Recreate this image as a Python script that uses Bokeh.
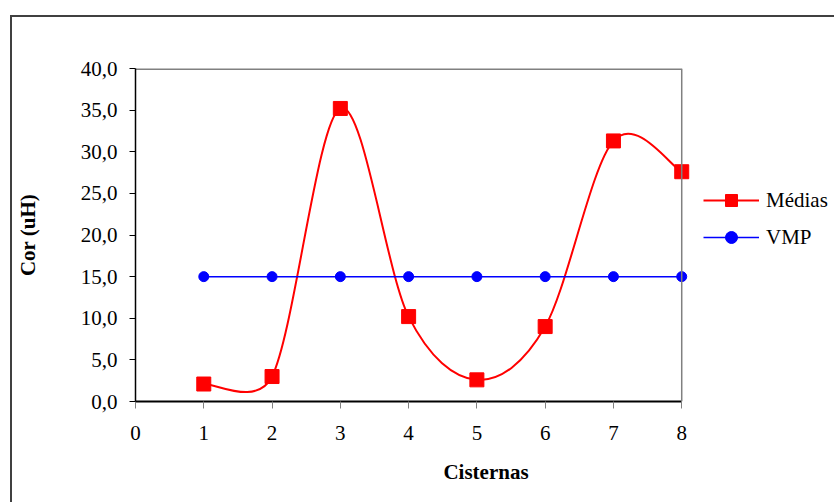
import math
from bokeh.plotting import figure
from bokeh.models import (FixedTicker, CustomJSTickFormatter, Legend, LegendItem,
                          ColumnDataSource, Range1d, Span)
from bokeh.embed import file_html
from bokeh.resources import INLINE

# ---- data ----
cisternas = [1, 2, 3, 4, 5, 6, 7, 8]
medias = [2.1, 3.0, 35.2, 10.2, 2.6, 9.0, 31.3, 27.6]
vmp = [15.0, 15.0, 15.0, 15.0, 15.0, 15.0, 15.0, 15.0]
x_ticks = [0, 1, 2, 3, 4, 5, 6, 7, 8]
y_ticks = [0, 5, 10, 15, 20, 25, 30, 35, 40]
series_names = ["Médias", "VMP"]
x_title = "Cisternas"
y_title = "Cor (uH)"

# ---- layout ----
W, H = 824, 487
ML, MT, MB = 122, 51, 103
PLOT_W = 547                       # width of the plot area (x = 0..8)
FW, FH = W - ML, H - MT - MB       # frame also hosts the legend on the right
X0, X1, Y0, Y1 = 0, 8, 0, 40
SX, SY = PLOT_W / (X1 - X0), FH / (Y1 - Y0)
XMAX = X0 + FW / SX
FONT = "Liberation Serif"


def smooth_segments(xs, ys, f=1 / 6):
    """Excel-like smoothed line: cubic Bezier control points computed in screen space."""
    px = [x * SX for x in xs]
    py = [y * SY for y in ys]
    n = len(px)
    out = {k: [] for k in ("x0", "y0", "x1", "y1", "cx0", "cy0", "cx1", "cy1")}
    for i in range(n - 1):
        a, b = max(i - 1, 0), min(i + 2, n - 1)
        seg = math.hypot(px[i + 1] - px[i], py[i + 1] - py[i])
        dx, dy = px[i + 1] - px[a], py[i + 1] - py[a]
        d = math.hypot(dx, dy) or 1
        L = min(f * d, seg / 2)
        h0x, h0y = dx / d * L, dy / d * L
        dx, dy = px[b] - px[i], py[b] - py[i]
        d = math.hypot(dx, dy) or 1
        L = min(f * d, seg / 2)
        h1x, h1y = dx / d * L, dy / d * L
        out["x0"].append(xs[i]); out["y0"].append(ys[i])
        out["x1"].append(xs[i + 1]); out["y1"].append(ys[i + 1])
        out["cx0"].append((px[i] + h0x) / SX); out["cy0"].append((py[i] + h0y) / SY)
        out["cx1"].append((px[i + 1] - h1x) / SX); out["cy1"].append((py[i + 1] - h1y) / SY)
    return out


p = figure(width=W, height=H, output_backend="svg", toolbar_location=None,
           x_range=Range1d(X0, XMAX), y_range=Range1d(Y0, Y1),
           min_border_left=ML, min_border_right=0, min_border_top=MT, min_border_bottom=MB)
p.margin = (15, 0, 0, 10)
p.styles = {"border-left": "2px solid #404040", "border-top": "2px solid #404040"}

p.xgrid.visible = False
p.ygrid.visible = False
p.background_fill_color = "white"
p.border_fill_color = "white"
p.outline_line_color = None

# plot-area border (top and right edges)
p.segment(x0=[X0], y0=[Y1], x1=[X1], y1=[Y1], line_color="#808080", line_width=3)
p.add_layout(Span(location=X1, dimension="height", line_color="#808080", line_width=1.5))

src_m = ColumnDataSource(smooth_segments(cisternas, medias))
r_ml = p.bezier(x0="x0", y0="y0", x1="x1", y1="y1", cx0="cx0", cy0="cy0",
                cx1="cx1", cy1="cy1", source=src_m, line_color="#FF0000", line_width=2)
r_ms = p.scatter(cisternas, medias, marker="square", size=14, fill_color="#FF0000",
                 line_color="#FF0000")
r_vl = p.line(cisternas, vmp, line_color="#0000FF", line_width=1.5)
r_vs = p.scatter(cisternas, vmp, marker="circle", size=10, fill_color="#0000FF",
                 line_color="#0000FF")

# axes
xa = p.xaxis[0]
xa.bounds = (X0, X1)
xa.ticker = FixedTicker(ticks=x_ticks)
xa.axis_line_color = "black"
xa.axis_line_width = 2
xa.major_tick_in = 0
xa.major_tick_out = 7
xa.major_tick_line_color = "#808080"
xa.minor_tick_line_color = None
xa.major_label_text_font = FONT
xa.major_label_text_font_size = "21px"
xa.major_label_text_color = "black"
xa.major_label_standoff = 17
xa.axis_label = x_title
xa.axis_label_text_font = FONT
xa.axis_label_text_font_style = "bold"
xa.axis_label_text_font_size = "21px"
xa.axis_label_text_color = "black"
xa.axis_label_standoff = 17

ya = p.yaxis[0]
ya.ticker = FixedTicker(ticks=y_ticks)
ya.formatter = CustomJSTickFormatter(code="return tick.toFixed(1).replace('.', ',');")
ya.axis_line_color = "black"
ya.axis_line_width = 1.5
ya.major_tick_in = 0
ya.major_tick_out = 6
ya.major_tick_line_color = "black"
ya.minor_tick_line_color = None
ya.major_label_text_font = FONT
ya.major_label_text_font_size = "21px"
ya.major_label_text_color = "black"
ya.major_label_standoff = 12
ya.axis_label = y_title
ya.axis_label_text_font = FONT
ya.axis_label_text_font_style = "bold"
ya.axis_label_text_font_size = "21px"
ya.axis_label_text_color = "black"
ya.axis_label_standoff = 38

legend = Legend(items=[LegendItem(label=series_names[0], renderers=[r_ml, r_ms]),
                       LegendItem(label=series_names[1], renderers=[r_vl, r_vs])],
                location=(PLOT_W + 21, 149), orientation="vertical")
legend.border_line_color = None
legend.background_fill_alpha = 0
legend.margin = 0
legend.padding = 0
legend.glyph_width = 56
legend.glyph_height = 30
legend.label_height = 26
legend.spacing = 7
legend.label_standoff = 7
legend.label_text_font = FONT
legend.label_text_font_size = "21px"
legend.label_text_color = "black"
p.add_layout(legend, "center")

open("out.html", "w").write(file_html(p, INLINE))
